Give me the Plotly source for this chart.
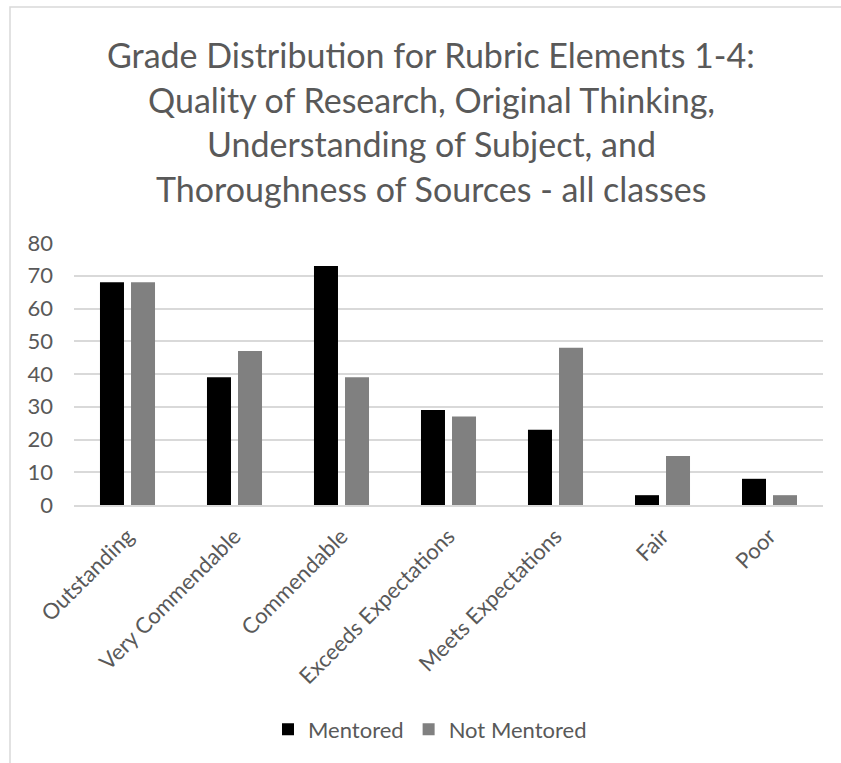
import plotly.graph_objects as go

categories = ["Outstanding", "Very Commendable", "Commendable", "Exceeds Expectations",
              "Meets Expectations", "Fair", "Poor"]
mentored = [68, 39, 73, 29, 23, 3, 8]
not_mentored = [68, 47, 39, 27, 48, 15, 3]
y_ticks = [0, 10, 20, 30, 40, 50, 60, 70, 80]
title_lines = ["Grade Distribution for Rubric Elements 1-4:",
               "Quality of Research, Original Thinking,",
               "Understanding of Subject, and",
               "Thoroughness of Sources - all classes"]

W, H = 841, 763
L, R, T, B = 74, 18, 243, 258
PW = W - L - R
PH = H - T - B
FONT = "Lato"
TXT = "#595959"

fig = go.Figure()
fig.add_trace(go.Bar(x=categories, y=mentored, name="Mentored", marker_color="#000000",
                     marker_line_width=0))
fig.add_trace(go.Bar(x=categories, y=not_mentored, name="Not Mentored", marker_color="#808080",
                     marker_line_width=0))

def py(Y):
    return (H - B - Y) / PH

def px(X):
    return (X - L) / PW

title_y = [55, 99, 143, 188]
for line, yy in zip(title_lines, title_y):
    fig.add_annotation(text=line, xref="paper", yref="paper", x=px(431),
                       y=py(yy), xanchor="center", yanchor="middle", showarrow=False,
                       font=dict(family=FONT, size=34, color=TXT))

fig.add_shape(type="rect", xref="paper", yref="paper",
              x0=px(10), x1=px(W + 10), y0=py(H + 10), y1=py(7),
              line=dict(color="#d9d9d9", width=1.5),
              fillcolor="rgba(0,0,0,0)", layer="below")

fig.update_layout(
    width=W, height=H,
    margin=dict(l=L, r=R, t=T, b=B),
    paper_bgcolor="white", plot_bgcolor="white",
    barmode="group", bargap=0.42, bargroupgap=0.226,
    font=dict(family=FONT, color=TXT),
    showlegend=True,
    legend=dict(orientation="h", x=px(430), xanchor="center", y=py(729.5), yanchor="middle",
                font=dict(family=FONT, size=22, color=TXT), traceorder="normal",
                itemwidth=30, itemsizing="constant"),
)
fig.update_xaxes(tickangle=-45, tickfont=dict(family=FONT, size=22, color=TXT),
                 showgrid=False, showline=True, linecolor="#d9d9d9", linewidth=1.5,
                 ticks="", zeroline=False, ticklabelstandoff=8)
fig.update_yaxes(range=[0, 80], tickvals=y_ticks, tickfont=dict(family=FONT, size=22, color=TXT),
                 showgrid=True, gridcolor="#d9d9d9", gridwidth=1.5, zeroline=False,
                 showline=False, ticks="", ticklabelstandoff=20)

fig.write_html("out.html")
